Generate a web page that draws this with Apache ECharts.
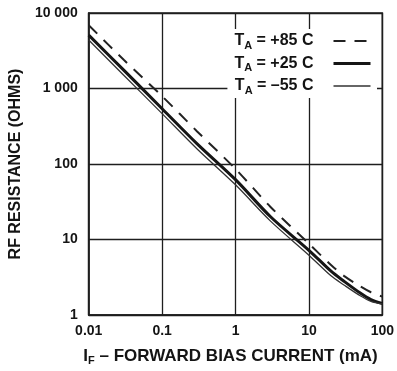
<!DOCTYPE html>
<html>
<head>
<meta charset="utf-8">
<script src="https://cdn.jsdelivr.net/npm/echarts@6/dist/echarts.min.js"></script>
<style>html,body{margin:0;padding:0;background:#fff}#c{width:397px;height:371px}</style>
</head>
<body>
<div id="c"></div>
<script>
// Forward bias current (mA)
var current = [0.01, 0.03, 0.1, 0.3, 1, 3, 10, 20, 30, 50, 70, 100];
// RF resistance (ohms)
var r85 = [6900, 2400, 790, 270, 86, 27, 8.8, 4.6, 3.3, 2.4, 2.0, 1.75];
var r25 = [5100, 1750, 540, 185, 62, 20, 7.2, 3.8, 2.8, 1.95, 1.6, 1.42];
var rm55 = [4400, 1500, 465, 158, 53, 17.5, 6.2, 3.3, 2.5, 1.8, 1.52, 1.40];
var seriesNames = ['+85 C', '+25 C', '\u201355 C'];
var xTickLabels = ['0.01', '0.1', '1', '10', '100'];
var yTickLabels = ['1', '10', '100', '1 000', '10 000'];

function pairs(ys) { return current.map(function (x, i) { return [x, ys[i]]; }); }

var FONT = '"Liberation Sans", Arial, sans-serif';
var TXT = '#141414';
var chart = echarts.init(document.getElementById('c'));
chart.setOption({
  animation: false,
  grid: { left: 82, right: 13, top: 13, bottom: 55, show: true, borderColor: '#1e1e1e', borderWidth: 1.6 },
  legend: {
    orient: 'vertical', right: 20, top: 29, align: 'right',
    backgroundColor: '#fff', padding: [4, 5, 2, 7], itemGap: 4.5,
    itemWidth: 37, itemHeight: 14,
    data: seriesNames,
    itemStyle: { opacity: 0 },
    lineStyle: { width: 'inherit' },
    formatter: function (n) { return '{t|T}{s|A}{t| = ' + n + '}{g|}'; },
    textStyle: {
      rich: {
        t: { fontFamily: FONT, fontWeight: 'bold', fontSize: 16, color: TXT, lineHeight: 20, verticalAlign: 'middle' },
        s: { fontFamily: FONT, fontWeight: 'bold', fontSize: 11, color: TXT, lineHeight: 10, verticalAlign: 'bottom' },
        g: { width: 15 }
      }
    }
  },
  xAxis: {
    type: 'log', logBase: 10, min: 0.01, max: 100,
    axisLine: { show: true, lineStyle: { color: '#1e1e1e', width: 1.6 } },
    axisTick: { show: false },
    splitLine: { show: true, lineStyle: { color: '#1e1e1e', width: 1.3 } },
    minorSplitLine: { show: false },
    axisLabel: {
      margin: 9, fontFamily: FONT, fontWeight: 'bold', fontSize: 14, color: TXT,
      formatter: function (v) { return xTickLabels[Math.round(Math.log10(v)) + 2]; }
    },
    name: '{t|I}{s|F}{t| \u2013 FORWARD BIAS CURRENT (mA)}',
    nameLocation: 'middle', nameGap: 31,
    nameTextStyle: {
      padding: [0, 10, 0, 0],
      rich: {
        t: { fontFamily: FONT, fontWeight: 'bold', fontSize: 17, color: TXT, lineHeight: 20, verticalAlign: 'middle' },
        s: { fontFamily: FONT, fontWeight: 'bold', fontSize: 11, color: TXT, lineHeight: 10, verticalAlign: 'bottom' }
      }
    }
  },
  yAxis: {
    type: 'log', logBase: 10, min: 1, max: 10000,
    axisLine: { show: true, lineStyle: { color: '#1e1e1e', width: 1.6 } },
    axisTick: { show: false },
    splitLine: { show: true, lineStyle: { color: '#1e1e1e', width: 1.3 } },
    minorSplitLine: { show: false },
    axisLabel: {
      margin: 11, fontFamily: FONT, fontWeight: 'bold', fontSize: 14, color: TXT,
      formatter: function (v) { return yTickLabels[Math.round(Math.log10(v))]; }
    },
    name: 'RF RESISTANCE (OHMS)', nameLocation: 'middle', nameGap: 51,
    nameTextStyle: { fontFamily: FONT, fontWeight: 'bold', fontSize: 16, color: TXT }
  },
  series: [
    { name: seriesNames[0], type: 'line', data: pairs(r85), symbol: 'none', smooth: 0.3,
      lineStyle: { color: '#222', width: 2, type: [12, 9] }, itemStyle: { color: '#222' } },
    { name: seriesNames[1], type: 'line', data: pairs(r25), symbol: 'none', smooth: 0.3,
      lineStyle: { color: '#151515', width: 3 }, itemStyle: { color: '#151515' } },
    { name: seriesNames[2], type: 'line', data: pairs(rm55), symbol: 'none', smooth: 0.3,
      lineStyle: { color: '#333', width: 1.3 }, itemStyle: { color: '#333' } }
  ]
});
</script>
</body>
</html>
